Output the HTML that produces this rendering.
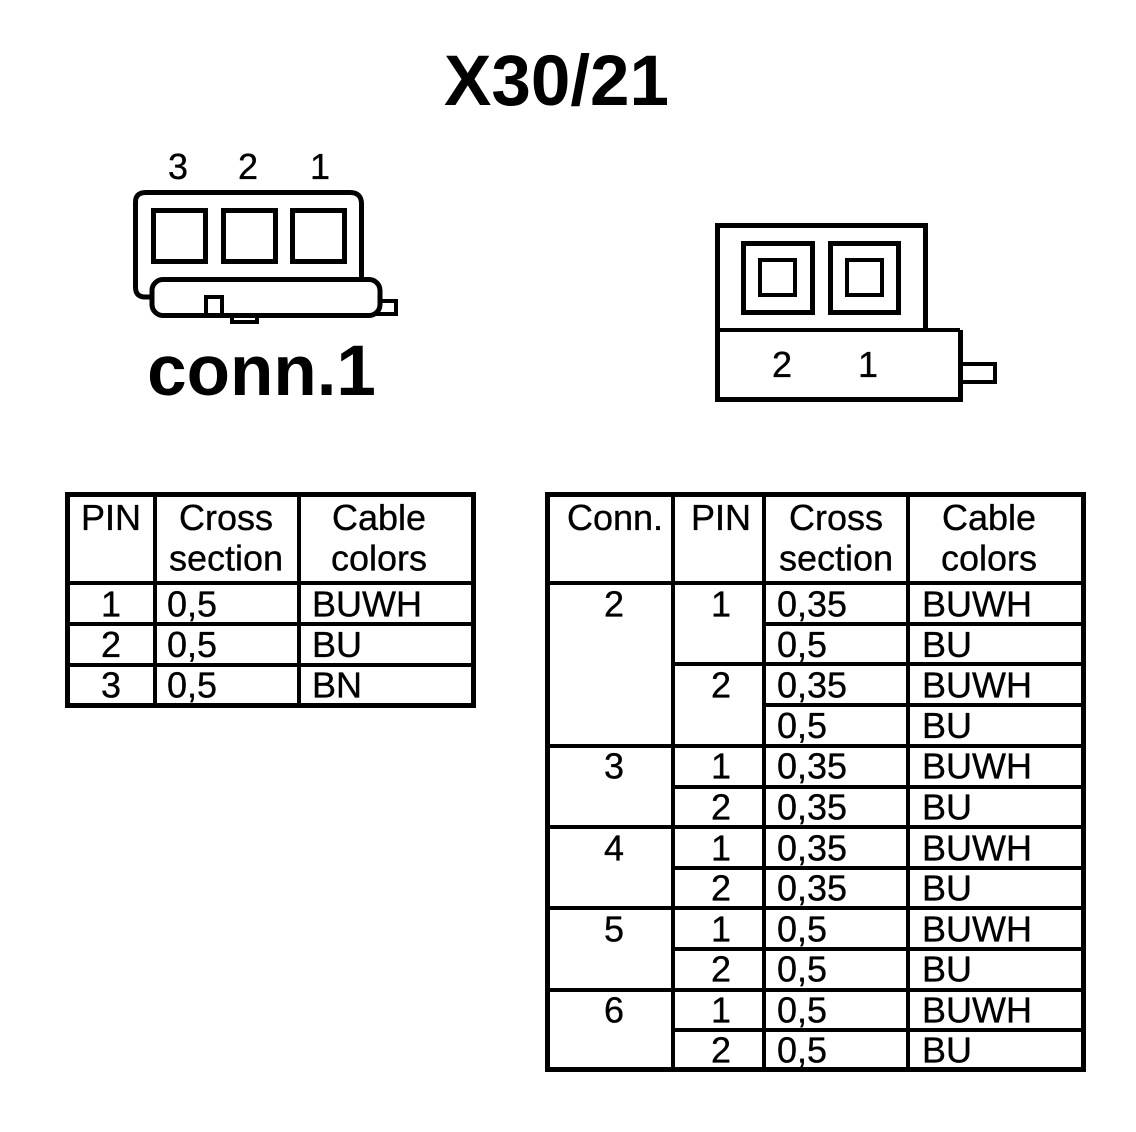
<!DOCTYPE html>
<html><head><meta charset="utf-8"><style>
html,body{margin:0;padding:0;background:#fff}
svg{display:block}
text{font-family:"Liberation Sans",Arial,sans-serif;font-size:36px;fill:#000;stroke:#000;stroke-width:.35px}
.b{font-weight:bold;font-size:71px;stroke:none}
.m{text-anchor:middle}
.t{fill:none;stroke:#000;stroke-width:4;shape-rendering:crispEdges}
.o{fill:none;stroke:#000;stroke-width:5;shape-rendering:crispEdges}
.r{fill:none;stroke:#000;stroke-width:5}
</style></head><body>
<svg width="1136" height="1132" viewBox="0 0 1136 1132" xmlns="http://www.w3.org/2000/svg">
<rect width="1136" height="1132" fill="#fff"/>
<text class="b m" x="556.500" y="105">X30/21</text>
<text class="b m" x="261.500" y="395">conn.1</text>
<text class="m" x="178" y="179">3</text><text class="m" x="248" y="179">2</text><text class="m" x="320" y="179">1</text>
<text class="m" x="782" y="377">2</text><text class="m" x="868" y="377">1</text>

<!-- connector 1 -->
<path class="r" d="M152 297 H145 Q135.500 297 135.500 287 V202 Q135.500 192.500 146 192.500 H350 Q361.500 192.500 361.500 204 V279"/>
<rect class="o" x="153.500" y="210.500" width="52" height="51"/>
<rect class="o" x="223.500" y="210.500" width="52" height="51"/>
<rect class="o" x="292.500" y="210.500" width="52" height="51"/>
<rect class="r" x="152" y="279.500" width="228" height="36" rx="11"/>
<rect class="t" x="206" y="297" width="16" height="18"/>
<path class="t" d="M232 316 V322 H257 V316"/>
<path class="t" d="M381 301 H396 V314 H376"/>

<!-- connector 2 -->
<path class="o" d="M925.500 330 V225.500 H717.500 V399.500 H960.500 V330"/>
<path class="t" d="M717 330 H960"/>
<rect class="o" x="743.500" y="243.500" width="69" height="69"/>
<rect class="o" x="830.500" y="243.500" width="68" height="69"/>
<rect class="t" x="760" y="260" width="35" height="35"/>
<rect class="t" x="847" y="260" width="35" height="35"/>
<path class="t" d="M960 364 H995 V382 H960"/>

<!-- left table text -->
<text class="m" x="111" y="530">PIN</text>
<text class="m" x="226" y="530">Cross</text><text class="m" x="226" y="570.500">section</text>
<text class="m" x="379" y="530">Cable</text><text class="m" x="379" y="570.500">colors</text>
<text class="m" x="111" y="616.500">1</text><text x="167" y="616.500">0,5</text><text x="312" y="616.500">BUWH</text>
<text class="m" x="111" y="657">2</text><text x="167" y="657">0,5</text><text x="312" y="657">BU</text>
<text class="m" x="111" y="697.500">3</text><text x="167" y="697.500">0,5</text><text x="312" y="697.500">BN</text>

<!-- right table text -->
<text class="m" x="615" y="530">Conn.</text><text class="m" x="721" y="530">PIN</text>
<text class="m" x="836" y="530">Cross</text><text class="m" x="836" y="570.500">section</text>
<text class="m" x="989" y="530">Cable</text><text class="m" x="989" y="570.500">colors</text>

<text class="m" x="614" y="616.500">2</text>
<text class="m" x="614" y="778.500">3</text>
<text class="m" x="614" y="860.500">4</text>
<text class="m" x="614" y="941.500">5</text>
<text class="m" x="614" y="1022.500">6</text>

<text class="m" x="721" y="616.500">1</text>
<text class="m" x="721" y="697.500">2</text>
<text class="m" x="721" y="778.500">1</text>
<text class="m" x="721" y="819.500">2</text>
<text class="m" x="721" y="860.500">1</text>
<text class="m" x="721" y="900.500">2</text>
<text class="m" x="721" y="941.500">1</text>
<text class="m" x="721" y="981.500">2</text>
<text class="m" x="721" y="1022.500">1</text>
<text class="m" x="721" y="1062.500">2</text>

<text x="777" y="616.500">0,35</text><text x="922" y="616.500">BUWH</text>
<text x="777" y="657">0,5</text><text x="922" y="657">BU</text>
<text x="777" y="697.500">0,35</text><text x="922" y="697.500">BUWH</text>
<text x="777" y="738">0,5</text><text x="922" y="738">BU</text>
<text x="777" y="778.500">0,35</text><text x="922" y="778.500">BUWH</text>
<text x="777" y="819.500">0,35</text><text x="922" y="819.500">BU</text>
<text x="777" y="860.500">0,35</text><text x="922" y="860.500">BUWH</text>
<text x="777" y="900.500">0,35</text><text x="922" y="900.500">BU</text>
<text x="777" y="941.500">0,5</text><text x="922" y="941.500">BUWH</text>
<text x="777" y="981.500">0,5</text><text x="922" y="981.500">BU</text>
<text x="777" y="1022.500">0,5</text><text x="922" y="1022.500">BUWH</text>
<text x="777" y="1062.500">0,5</text><text x="922" y="1062.500">BU</text>

<!-- left table lines -->
<rect class="o" x="67.500" y="494.500" width="406" height="211"/>
<path class="t" d="M155 494 V706 M299 494 V706 M67 583 H474 M67 624 H474 M67 665 H474"/>

<!-- right table lines -->
<rect class="o" x="547.500" y="494.500" width="536" height="575"/>
<path class="t" d="M673 494 V1070 M764 494 V1070 M908 494 V1070
M547 583 H1084 M764 624 H1084 M673 664 H1084 M764 705 H1084 M547 746 H1084
M673 787 H1084 M547 827 H1084 M673 868 H1084 M547 908 H1084
M673 949 H1084 M547 990 H1084 M673 1030 H1084"/>
</svg>
</body></html>
